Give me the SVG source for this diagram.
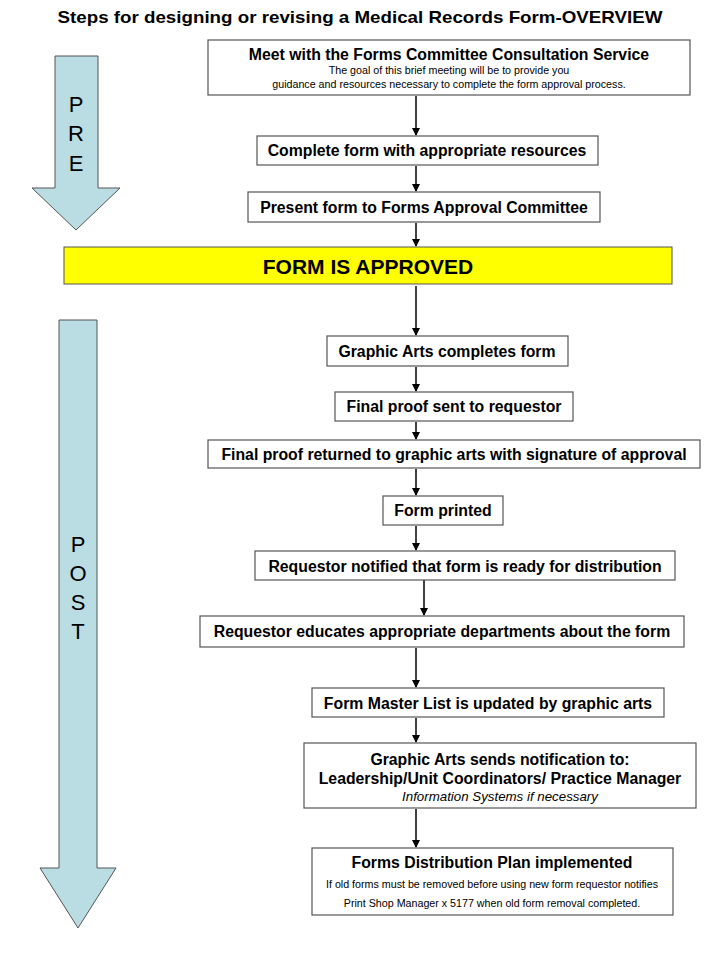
<svg xmlns="http://www.w3.org/2000/svg" width="720" height="960" viewBox="0 0 720 960">
<style>
text{font-family:"Liberation Sans",Arial,sans-serif;fill:#000;text-anchor:middle}
.b{font-weight:bold;font-size:15.8px}
.s{font-size:10.7px}
.box{fill:#fff;stroke:#555;stroke-width:1.2}
.big{fill:#b9dde2;stroke:#555;stroke-width:1}
.L{font-size:22px}
.c line{stroke:#000;stroke-width:1.5;marker-end:url(#ah)}
</style>
<defs><marker id="ah" markerWidth="8" markerHeight="8" refX="7" refY="4" orient="auto" markerUnits="userSpaceOnUse"><path d="M0,0 L8,4 L0,8 Z" fill="#000"/></marker></defs>
<rect width="720" height="960" fill="#fff"/>
<text x="360" y="23" style="font-weight:bold;font-size:17px" textLength="605" lengthAdjust="spacingAndGlyphs">Steps  for designing or revising a Medical Records Form-OVERVIEW</text>
<g id="pre"><path class="big" d="M55,56 H98 V188 H120 L76,230 L32,188 H55 Z"/>
<text class="L" x="76" y="112">P</text><text class="L" x="76" y="141">R</text><text class="L" x="76" y="171">E</text></g>
<g id="post"><path class="big" d="M59,320 H97 V868 H116 L78,928 L40,868 H59 Z"/>
<text class="L" x="78" y="552">P</text><text class="L" x="78" y="581">O</text><text class="L" x="78" y="610">S</text><text class="L" x="78" y="639">T</text></g>
<g class="c">
<line x1="416" y1="96" x2="416" y2="135"/>
<line x1="416" y1="166" x2="416" y2="191"/>
<line x1="416" y1="223" x2="416" y2="246"/>
<line x1="416" y1="286" x2="416" y2="335"/>
<line x1="416" y1="367" x2="416" y2="391"/>
<line x1="416" y1="422" x2="416" y2="439"/>
<line x1="416" y1="469" x2="416" y2="495"/>
<line x1="416" y1="526" x2="416" y2="550"/>
<line x1="424" y1="576" x2="424" y2="615"/>
<line x1="416" y1="648" x2="416" y2="687"/>
<line x1="416" y1="718" x2="416" y2="742"/>
<line x1="416" y1="809" x2="416" y2="847"/>
</g>
<g id="n1"><rect class="box" x="208" y="40" width="482" height="55"/><text class="b" x="449" y="60">Meet with the Forms Committee Consultation Service</text><text class="s" x="449" y="74">The goal of this brief meeting will be to provide you</text><text class="s" x="449" y="88">guidance and resources necessary to complete the form approval process.</text></g>
<g id="n2"><rect class="box" x="257" y="136" width="341" height="29"/><text class="b" x="427" y="156">Complete form with appropriate resources</text></g>
<g id="n3"><rect class="box" x="248" y="192" width="352" height="30"/><text class="b" x="424" y="213">Present form to Forms Approval Committee</text></g>
<g id="n4"><rect x="64" y="247" width="608" height="37" fill="#ffff00" stroke="#555"/><text x="368" y="274" style="font-weight:bold;font-size:21px">FORM IS APPROVED</text></g>
<g id="n5"><rect class="box" x="327" y="336" width="241" height="30"/><text class="b" x="447" y="357">Graphic Arts completes form</text></g>
<g id="n6"><rect class="box" x="335" y="392" width="238" height="29"/><text class="b" x="454" y="412">Final proof sent to requestor</text></g>
<g id="n7"><rect class="box" x="208" y="440" width="492" height="28"/><text class="b" x="454" y="460">Final proof returned to graphic arts with signature of approval</text></g>
<g id="n8"><rect class="box" x="383" y="496" width="120" height="29"/><text class="b" x="443" y="516">Form printed</text></g>
<g id="n9"><rect class="box" x="255" y="551" width="420" height="29"/><text class="b" x="465" y="572">Requestor notified that form is ready for distribution</text></g>
<g id="n10"><rect class="box" x="200" y="616" width="484" height="31"/><text class="b" x="442" y="637">Requestor educates appropriate departments about the form</text></g>
<g id="n11"><rect class="box" x="312" y="688" width="352" height="29"/><text class="b" x="488" y="709">Form Master List is updated by graphic arts</text></g>
<g id="n12"><rect class="box" x="304" y="743" width="392" height="65"/><text class="b" x="500" y="765">Graphic Arts sends notification to:</text><text class="b" x="500" y="784">Leadership/Unit Coordinators/ Practice Manager</text><text x="500" y="801" style="font-size:13.3px;font-style:italic">Information Systems if necessary</text></g>
<g id="n13"><rect class="box" x="312" y="848" width="361" height="67"/><text class="b" x="492" y="868">Forms Distribution Plan implemented</text><text class="s" x="492" y="888">If old forms must be removed before using new form requestor notifies</text><text class="s" x="492" y="907">Print Shop Manager x 5177 when old form removal completed.</text></g>
</svg>
